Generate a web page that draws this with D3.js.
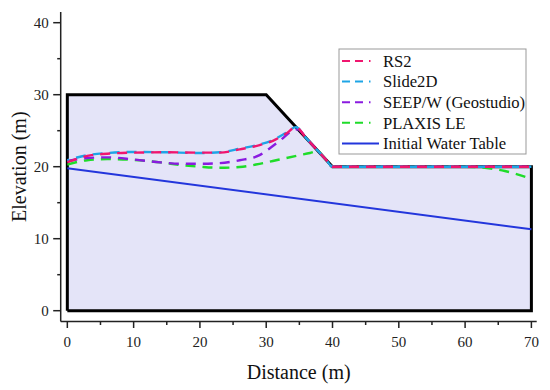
<!DOCTYPE html>
<html>
<head>
<meta charset="utf-8">
<script src="https://cdn.jsdelivr.net/npm/d3@7"></script>
<style>
  body { margin: 0; background: #fff; }
  svg { display: block; }
  text { font-family: 'Liberation Serif', 'Times New Roman', Times, 'DejaVu Serif', serif; }
</style>
</head>
<body>
<svg id="chart" width="550" height="390"></svg>
<script>
// slope geometry (x, elevation)
const boundary = [[0, 0], [0, 30], [30, 30], [40, 20], [70, 20], [70, 0], [0, 0]];
const waterTable = [[0, 19.8], [70, 11.3]];

// phreatic surfaces
const rs2 = [[0, 20.6], [3, 21.5], [6, 21.8], [10, 21.95], [15, 22.0], [20, 21.95], [23, 21.95],
  [26, 22.4], [29, 23.0], [31, 23.6], [33, 24.6], [34.5, 25.5], [36, 24], [38, 22], [39, 21],
  [40, 20], [50, 20], [60, 20], [70, 20]];
const slide2d = [[0, 20.9], [3, 21.6], [6, 21.9], [10, 22.05], [15, 22.0], [20, 21.9], [23, 22.0],
  [26, 22.5], [29, 23.1], [31, 23.7], [33, 24.7], [34.5, 25.5], [36, 24], [38, 22], [39, 21],
  [40, 20], [50, 20], [60, 20], [70, 20]];
const seepw = [[0, 20.8], [3, 21.2], [6, 21.3], [10, 21.0], [14, 20.6], [17.5, 20.4], [20, 20.4],
  [23, 20.5], [26, 20.9], [29, 21.6], [30.6, 22.6], [32.3, 23.8], [33.8, 24.9], [34.8, 25.2],
  [36, 24], [38, 22], [39, 21], [40, 20], [50, 20], [60, 20], [70, 20]];
const plaxis = [[0, 20.3], [3, 20.9], [6, 21.05], [10, 20.95], [14, 20.6], [17.5, 20.2], [20, 20.0],
  [23, 19.85], [26, 19.95], [29, 20.4], [32, 21.0], [35, 21.6], [36.6, 21.9], [37.8, 22.2],
  [38.5, 21.5], [39, 21], [40, 20], [50, 20], [60, 20], [63, 19.85], [66, 19.4], [68, 18.9], [70, 18.3]];

const series = [
  { name: "RS2", pts: rs2, color: "#f0166f" },
  { name: "Slide2D", pts: slide2d, color: "#1ea5e6" },
  { name: "SEEP/W (Geostudio)", pts: seepw, color: "#8a1be0" },
  { name: "PLAXIS LE", pts: plaxis, color: "#1fdc2a" }
];

const xTicks = [0, 10, 20, 30, 40, 50, 60, 70];
const yTicks = [0, 10, 20, 30, 40];

const svg = d3.select("#chart");
const x = d3.scaleLinear().domain([-1, 70.8]).range([60.7, 536.7]);
const y = d3.scaleLinear().domain([-1.5, 41.5]).range([321.5, 11.9]);

const line = d3.line().x(d => x(d[0])).y(d => y(d[1]));
const smooth = d3.line().x(d => x(d[0])).y(d => y(d[1])).curve(d3.curveMonotoneX);

// soil body
svg.append("path")
  .datum(boundary)
  .attr("d", line)
  .attr("fill", "#e4e4f8")
  .attr("stroke", "#000")
  .attr("stroke-width", 3)
  .attr("stroke-linejoin", "miter");

svg.append("path")
  .datum(waterTable)
  .attr("d", line)
  .attr("fill", "none")
  .attr("stroke", "#2336dc")
  .attr("stroke-width", 2);

// draw order: green under, pink on top
[series[3], series[2], series[1], series[0]].forEach(s => {
  svg.append("path")
    .datum(s.pts)
    .attr("d", smooth)
    .attr("fill", "none")
    .attr("stroke", s.color)
    .attr("stroke-width", 2.4)
    .attr("stroke-dasharray", "10,7")
    .attr("stroke-dashoffset", s.name === "Slide2D" ? 8 : 0);
});

// axes
const xAxis = svg.append("g").attr("transform", `translate(0,${y(-1.5)})`);
xAxis.append("line").attr("x1", x(-1)).attr("x2", x(70.8)).attr("stroke", "#222").attr("stroke-width", 1.5);
xAxis.selectAll(".minor").data(d3.range(5, 70, 10)).join("line")
  .attr("x1", d => x(d)).attr("x2", d => x(d)).attr("y1", 0).attr("y2", 3.5)
  .attr("stroke", "#222").attr("stroke-width", 1.5);
xAxis.selectAll(".major").data(xTicks).join("line")
  .attr("x1", d => x(d)).attr("x2", d => x(d)).attr("y1", 0).attr("y2", 6.5)
  .attr("stroke", "#222").attr("stroke-width", 1.5);
xAxis.selectAll("text").data(xTicks).join("text")
  .attr("x", d => x(d)).attr("y", 25)
  .attr("text-anchor", "middle")
  .attr("font-size", 15).attr("fill", "#222")
  .text(d => d);

const yAxis = svg.append("g").attr("transform", `translate(${x(-1)},0)`);
yAxis.append("line").attr("y1", y(-1.5)).attr("y2", y(41.5)).attr("stroke", "#222").attr("stroke-width", 1.5);
yAxis.selectAll(".minor").data(d3.range(5, 41, 10)).join("line")
  .attr("y1", d => y(d)).attr("y2", d => y(d)).attr("x1", 0).attr("x2", -3.5)
  .attr("stroke", "#222").attr("stroke-width", 1.5);
yAxis.selectAll(".major").data(yTicks).join("line")
  .attr("y1", d => y(d)).attr("y2", d => y(d)).attr("x1", 0).attr("x2", -7.5)
  .attr("stroke", "#222").attr("stroke-width", 1.5);
yAxis.selectAll("text").data(yTicks).join("text")
  .attr("x", -12).attr("y", d => y(d)).attr("dy", "0.34em")
  .attr("text-anchor", "end")
  .attr("font-size", 15).attr("fill", "#222")
  .text(d => d);

svg.append("text")
  .attr("x", (x(-1) + x(70.8)) / 2).attr("y", 379)
  .attr("text-anchor", "middle").attr("font-size", 20).attr("fill", "#111")
  .text("Distance (m)");

svg.append("text")
  .attr("transform", `translate(26,${(y(-1.5) + y(41.5)) / 2}) rotate(-90)`)
  .attr("text-anchor", "middle").attr("font-size", 20).attr("fill", "#111")
  .text("Elevation (m)");

// legend
const legend = svg.append("g").attr("transform", "translate(339,49)");
legend.append("rect")
  .attr("width", 187).attr("height", 105)
  .attr("fill", "#fff").attr("stroke", "#999").attr("stroke-width", 1);
const entries = series.map(s => ({ name: s.name, color: s.color, dash: "8,5,8,6,1.5,20" }))
  .concat([{ name: "Initial Water Table", color: "#2336dc", dash: null }]);
const item = legend.selectAll("g.item").data(entries).join("g")
  .attr("transform", (d, i) => `translate(0,${12 + i * 20.6})`);
item.append("line")
  .attr("x1", 3).attr("x2", 40)
  .attr("stroke", d => d.color).attr("stroke-width", 2)
  .attr("stroke-dasharray", d => d.dash);
item.append("text")
  .attr("x", 44).attr("dy", "0.35em")
  .attr("font-size", 16.6).attr("fill", "#111")
  .text(d => d.name);
</script>
</body>
</html>
